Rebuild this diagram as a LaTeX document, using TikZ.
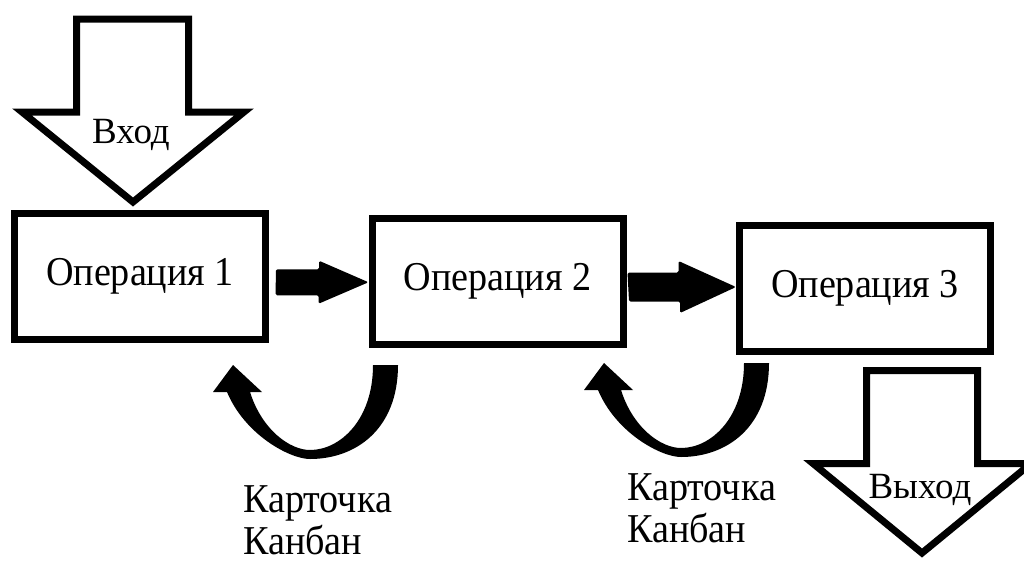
\documentclass[tikz,border=0pt]{standalone}
\usepackage{fontspec}
\setmainfont{Liberation Serif}
\newfontfamily\condfont{Liberation Serif}[FakeStretch=0.93]
\usetikzlibrary{calc}
\begin{document}
\begin{tikzpicture}[x=1pt,y=-1pt,
  box/.style={draw, line width=7pt, minimum width=251pt, minimum height=126pt, inner sep=0pt, font=\condfont\fontsize{41}{48}\selectfont},
  blk/.style={fill=black, rounded corners=1.5pt},
  bigarrow/.style={draw, line width=7pt, fill=white, line join=miter},
  lbl/.style={font=\condfont\fontsize{41}{48}\selectfont, inner sep=0pt},
  iolbl/.style={font=\fontsize{37}{42}\selectfont, inner sep=0pt},
  kanban/.pic={
    \fill (88,-94) .. controls (88,-29) and (45,0) .. (0,0)
      .. controls (-20,0) and (-65,-24) .. (-83,-67)
      -- (-97,-67) -- (-77,-94) -- (-48,-67) -- (-60,-67)
      .. controls (-48,-29) and (-20,-9) .. (0,-9)
      .. controls (30,-9) and (63,-39) .. (63,-94) -- cycle;
  }]
\useasboundingbox (0,0) rectangle (1024,562);
% operations
\node[box] (op1) at (140,276.25) {Операция 1};
\node[box] (op2) at (497.5,281.5) {Операция 2};
\node[box] (op3) at (865,288.5) {Операция 3};
% input arrow
\draw[bigarrow] (76.5,19) -- (188.5,19) -- (188.5,112) -- (244,112) -- (133,202) -- (22,112) -- (76.5,112) -- cycle;
\node[iolbl, anchor=base] (in) at (131,143) {Вход};
% output arrow
\draw[bigarrow] (866.5,370.5) -- (977.5,370.5) -- (977.5,463.5) -- (1031,463.5) -- (922,553) -- (813,463.5) -- (866.5,463.5) -- cycle;
\node[iolbl, anchor=base] (out) at (920,498) {Выход};
% block arrows between operations
\path (op1.east) ++(7,6) coordinate (a1s);
\coordinate (a1e) at (op2.west |- a1s);
\fill[blk] (a1s) ++(0,-13) -- ++(43,0) -- ++(0,-8.5) -- (a1e) -- ++(-50,21.5) -- ++(0,-8.5) -- ++(-43,0) -- cycle;
\path (op2.east) ++(1,5.5) coordinate (a2s);
\coordinate (a2e) at (op3.west |- a2s);
\fill[blk] (a2s) ++(0,-14.5) -- ++(51,0) -- ++(0,-11.5) -- (a2e) -- ++(-56,26) -- ++(0,-11.5) -- ++(-51,0) -- cycle;
% kanban return arrows
\pic at (310,459) {kanban};
\pic at (681,457) {kanban};
\node[lbl, anchor=base west] (k1a) at (243,512) {Карточка};
\node[lbl, anchor=base west, text depth=0pt] (k1b) at (243,554) {Канбан};
\node[lbl, anchor=base west] (k2a) at (627,500) {Карточка};
\node[lbl, anchor=base west] (k2b) at (627,542) {Канбан};
\end{tikzpicture}
\end{document}
